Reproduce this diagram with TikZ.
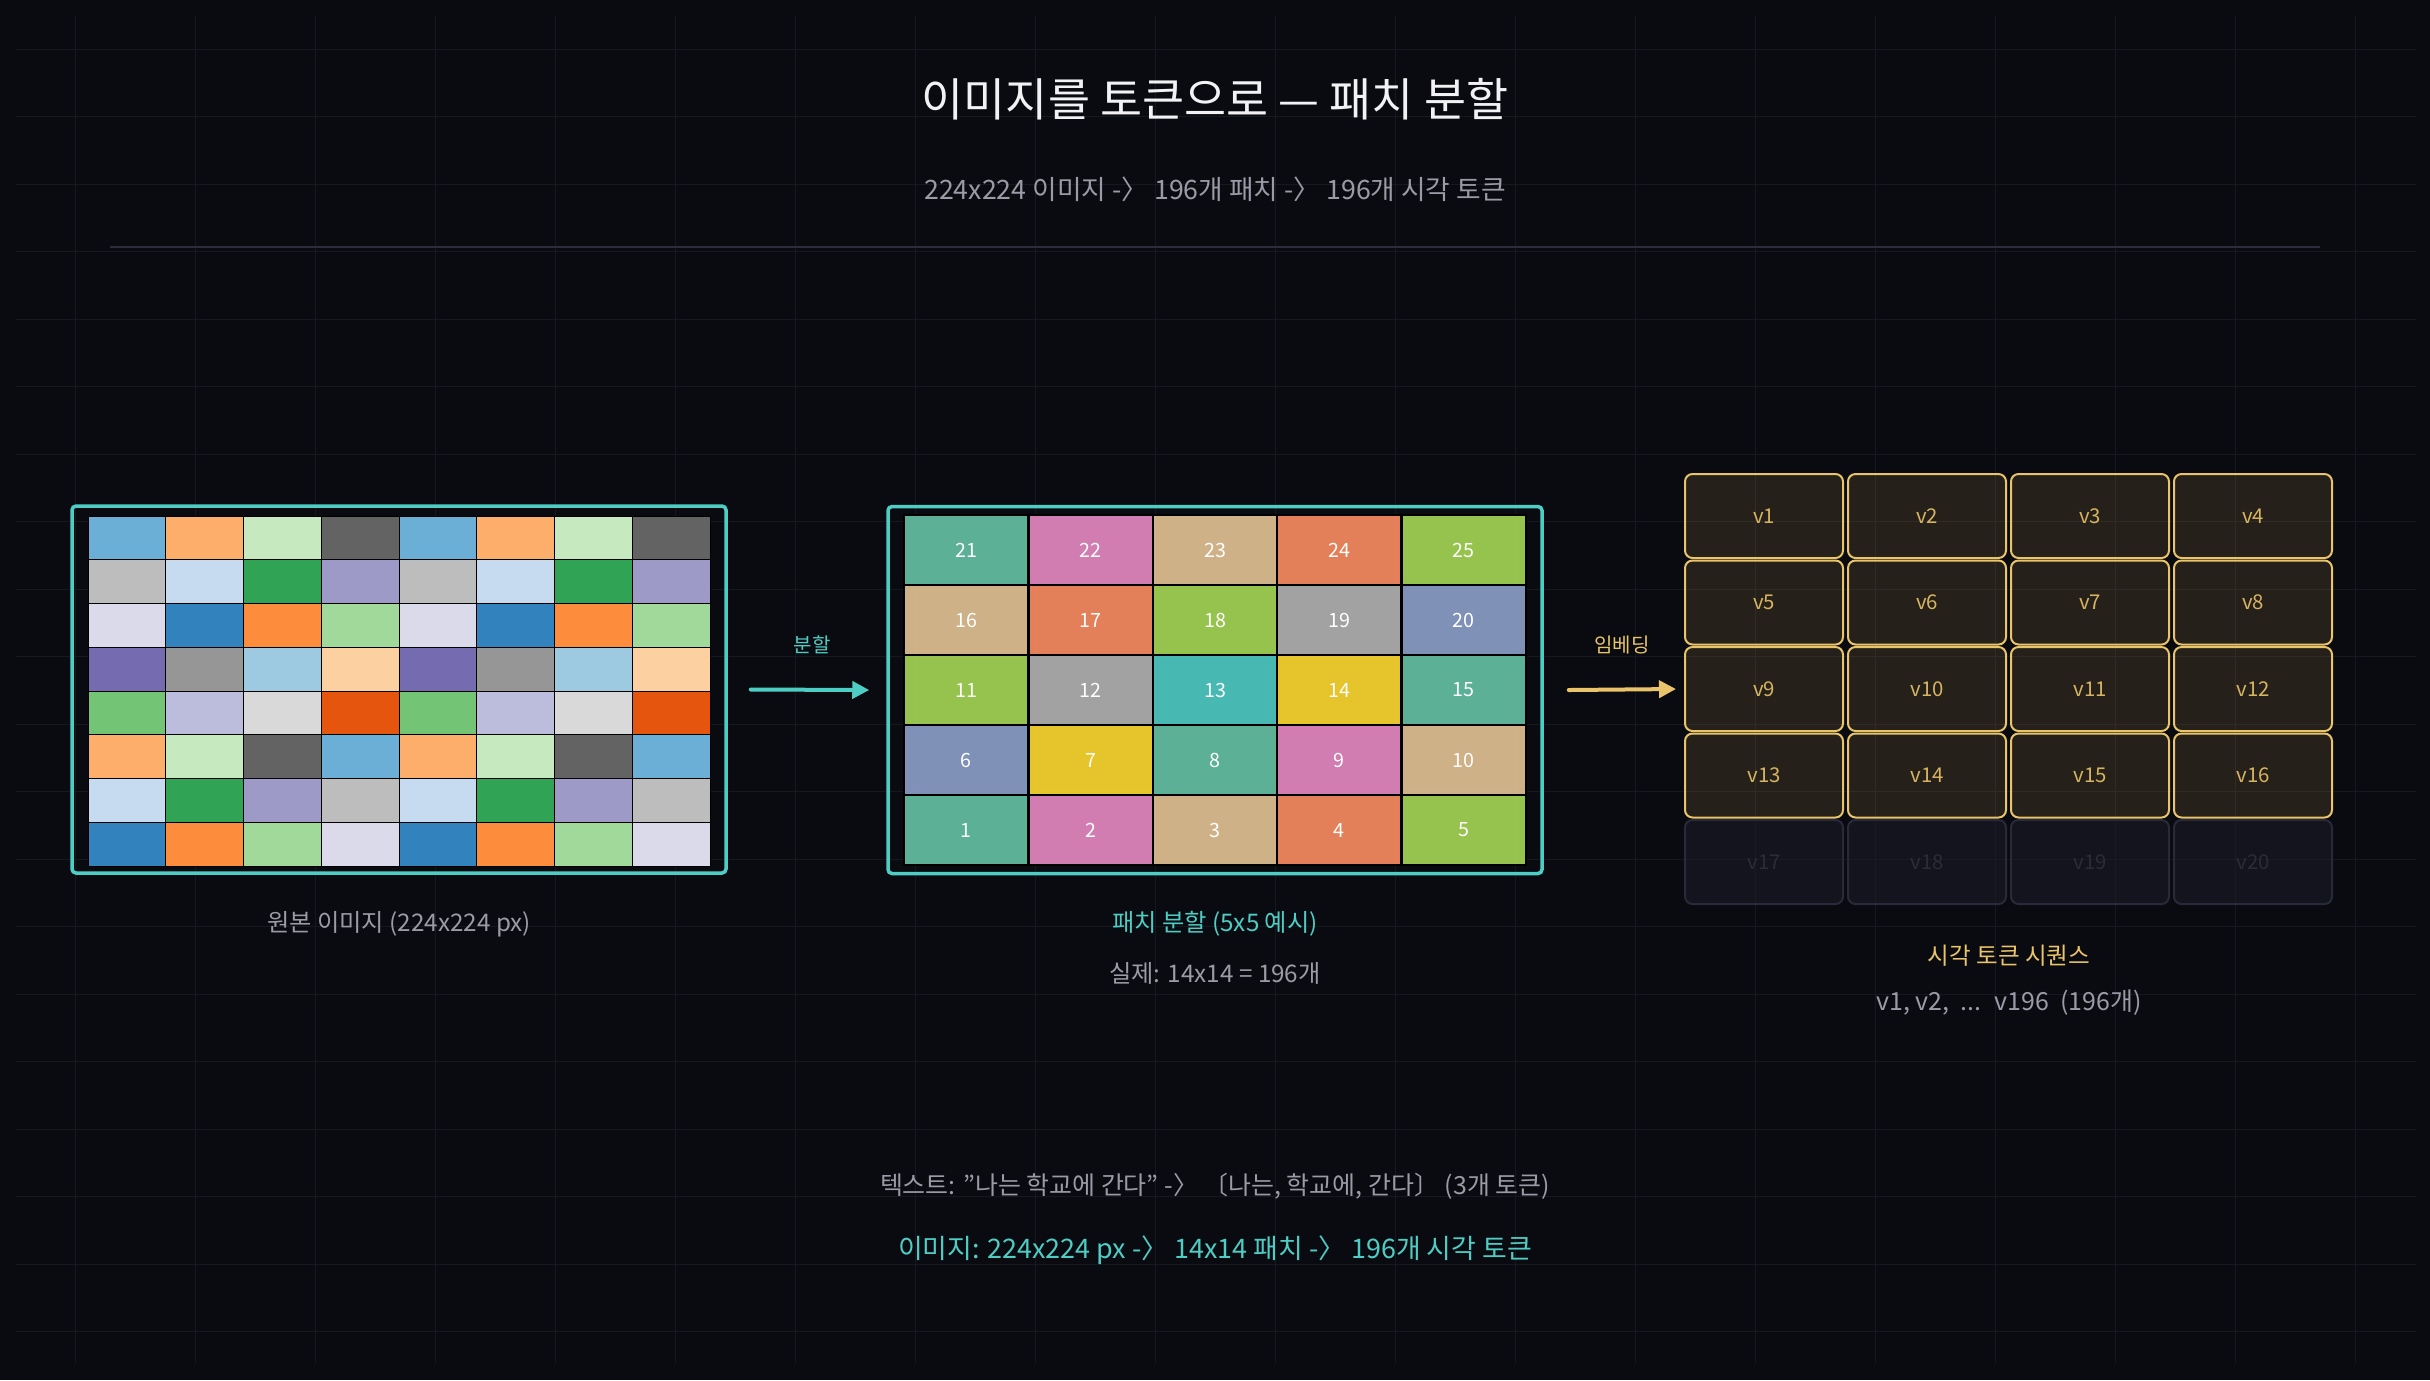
\documentclass[tikz,border=0pt]{standalone}
\usepackage{fontspec}
\setmainfont{Noto Sans CJK KR}
\usetikzlibrary{arrows.meta}

\definecolor{bgcol}{HTML}{0A0B10}
\definecolor{gridcol}{HTML}{16181F}
\definecolor{rulecol}{HTML}{2C2D3C}
\definecolor{titlecol}{HTML}{F2F2F5}
\definecolor{graytext}{HTML}{9A9BA6}
\definecolor{tealc}{HTML}{4ECDC4}
\definecolor{yellowc}{HTML}{E9C46A}
\definecolor{fadefill}{HTML}{1C1E2A}
\definecolor{fadedraw}{HTML}{282A39}
\definecolor{fadetext}{HTML}{2A2C3A}

\definecolor{mos0}{HTML}{3182BD}
\definecolor{mos1}{HTML}{6BAED6}
\definecolor{mos2}{HTML}{9ECAE1}
\definecolor{mos3}{HTML}{C6DBEF}
\definecolor{mos4}{HTML}{E6550D}
\definecolor{mos5}{HTML}{FD8D3C}
\definecolor{mos6}{HTML}{FDAE6B}
\definecolor{mos7}{HTML}{FDD0A2}
\definecolor{mos8}{HTML}{31A354}
\definecolor{mos9}{HTML}{74C476}
\definecolor{mos10}{HTML}{A1D99B}
\definecolor{mos11}{HTML}{C7E9C0}
\definecolor{mos12}{HTML}{756BB1}
\definecolor{mos13}{HTML}{9E9AC8}
\definecolor{mos14}{HTML}{BCBDDC}
\definecolor{mos15}{HTML}{DADAEB}
\definecolor{mos16}{HTML}{636363}
\definecolor{mos17}{HTML}{969696}
\definecolor{mos18}{HTML}{BDBDBD}
\definecolor{mos19}{HTML}{D9D9D9}

\definecolor{set0}{HTML}{66C2A5}
\definecolor{set1}{HTML}{FC8D62}
\definecolor{set2}{HTML}{8DA0CB}
\definecolor{set3}{HTML}{E78AC3}
\definecolor{set4}{HTML}{A6D854}
\definecolor{set5}{HTML}{FFD92F}
\definecolor{set6}{HTML}{E5C494}
\definecolor{set7}{HTML}{B3B3B3}

\tikzset{
  gridline/.style={gridcol, line width=0.1mm},
  imgframe/.style={draw=tealc, line width=0.35mm, rounded corners=0.4mm, minimum width=65.4mm, minimum height=36.7mm, inner sep=0pt},
  patchbox/.style={draw=black, line width=0.25mm, fill opacity=0.9, text opacity=1, text=white, minimum width=12.44mm, minimum height=7mm, inner sep=0pt, font=\fontsize{5.6}{6}\selectfont},
  tokenbox/.style={draw=yellowc, line width=0.2mm, fill=yellowc, fill opacity=0.12, text opacity=1, text=yellowc!92!black, rounded corners=0.75mm, minimum width=15.8mm, minimum height=8.4mm, inner sep=0pt, font=\fontsize{5.8}{6}\selectfont},
  fadebox/.style={tokenbox, draw=fadedraw, fill=fadefill, fill opacity=0.5, text=fadetext},
  flowarrow/.style={line width=0.4mm, line cap=round, -{Triangle[length=1.7mm,width=1.7mm]}},
  arrowlbl/.style={font=\fontsize{5.7}{6}\selectfont},
  lbl/.style={font=\fontsize{6.9}{8}\selectfont},
}

\begin{document}
\begin{tikzpicture}[x=0.1mm,y=-0.1mm]
\fill[bgcol] (0,0) rectangle (2430,1380);

\foreach \i in {0,...,19}{
    \draw[gridline] (75+120*\i,16) -- (75+120*\i,1363);
    \draw[gridline] (16,49+67.5*\i) -- (2416,49+67.5*\i);
}

\node[text=titlecol, font=\fontsize{13}{15}\selectfont] (title) at (1215,99) {이미지를 토큰으로 — 패치 분할};
\node[text=graytext, font=\fontsize{7.6}{9}\selectfont] (subtitle) at (1215,189) {224x224 이미지 -〉 196개 패치 -〉 196개 시각 토큰};
\draw[rulecol, line width=0.2mm] (110,247) -- (2320,247);

% original image
\node[imgframe] (img) at (399,689.5) {};
\foreach \r in {0,...,7}{
    \foreach \c in {0,...,7}{
        \pgfmathtruncatemacro{\k}{mod(41-3*\r+5*\c,20)}
        \filldraw[fill=mos\k, draw=black, line width=0.1mm] (88+77.75*\c,516+43.75*\r) rectangle ++(77.75,43.75);
    }
}
\node[lbl, text=graytext] (imglbl) at (399,924) {원본 이미지 (224x224 px)};

% patches
\node[imgframe] (patches) at (1215,690) {};
\foreach \r in {0,...,4}{
    \foreach \c in {0,...,4}{
        \pgfmathtruncatemacro{\n}{5*\r+\c+1}
        \pgfmathtruncatemacro{\k}{mod(2*\r+3*\c,8)}
        \pgfmathsetmacro{\px}{904+124.4*(\c+0.5)}
        \pgfmathsetmacro{\py}{515+70*(4.5-\r)}
        \ifnum\n=13 \def\pcol{tealc}\else\def\pcol{set\k}\fi
        \node[patchbox, fill=\pcol] (p\n) at (\px,\py) {\n};
    }
}
\node[lbl, text=tealc] (patchlbl) at (1215,924) {패치 분할 (5x5 예시)};
\node[lbl, text=graytext] (patchnote) at (1215,973) {실제: 14x14 = 196개};

% tokens
\foreach \i in {1,...,20}{
    \pgfmathtruncatemacro{\row}{div(\i-1,4)}
    \pgfmathtruncatemacro{\col}{mod(\i-1,4)}
    \pgfmathsetmacro{\tx}{1685+163*\col+79}
    \pgfmathsetmacro{\ty}{474+86.5*\row+42}
    \ifnum\row<4
        \node[tokenbox] (v\i) at (\tx,\ty) {v\i};
    \else
        \node[fadebox] (v\i) at (\tx,\ty) {v\i};
    \fi
}
\node[lbl, text=yellowc, font=\fontsize{6.7}{8}\selectfont] (toklbl) at (2009,956) {시각 토큰 시퀀스};
\node[lbl, text=graytext, font=\fontsize{7.1}{8}\selectfont] (toknote) at (2009,1003) {v1, v2, ~... ~v196 ~(196개)};

\draw[flowarrow, tealc] ([xshift=2.3mm]img.east) -- ([xshift=-1.7mm]patches.west);
\node[arrowlbl, text=tealc] (splitlbl) at (812,645) {분할};
\draw[flowarrow, yellowc] ([xshift=2.5mm]patches.east) -- ([xshift=-0.8mm]v9.west);
\node[arrowlbl, text=yellowc] (embedlbl) at (1622,645) {임베딩};

\node[text=graytext, font=\fontsize{7.1}{8}\selectfont] (textline) at (1215,1186) {텍스트: "나는 학교에 간다" -〉 〔나는, 학교에, 간다〕 (3개 토큰)};
\node[text=tealc, font=\fontsize{7.65}{9}\selectfont] (imgline) at (1215,1250) {이미지: 224x224 px -〉 14x14 패치 -〉 196개 시각 토큰};
\end{tikzpicture}
\end{document}
